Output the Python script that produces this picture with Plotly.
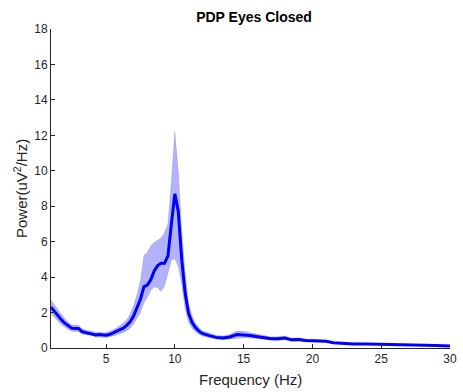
import plotly.graph_objects as go

freq = [1, 1.25, 1.5, 1.75, 2, 2.25, 2.5, 2.75, 3, 3.25, 3.5, 3.75, 4, 4.25, 4.5, 4.75,
        5, 5.25, 5.5, 5.75, 6, 6.25, 6.5, 6.75, 7, 7.25, 7.5, 7.75, 8, 8.25, 8.5, 8.75,
        9, 9.25, 9.5, 9.75, 10, 10.25, 10.5, 10.75, 11, 11.25, 11.5, 11.75, 12, 12.5,
        13, 13.5, 14, 14.5, 15, 15.5, 16, 16.5, 17, 17.5, 18, 18.5, 19, 19.5, 20, 20.5,
        21, 21.5, 22, 23, 24, 25, 26, 27, 28, 29, 30]

mean_power = [2.3, 2.05, 1.82, 1.6, 1.4, 1.25, 1.12, 1.1, 1.1, 0.92, 0.88, 0.85, 0.82, 0.74, 0.76, 0.72,
              0.72, 0.76, 0.84, 0.92, 1.02, 1.12, 1.28, 1.48, 1.8, 2.25, 2.75, 3.45, 3.55, 3.85, 4.35, 4.65,
              4.78, 4.78, 5.2, 7.0, 8.7, 7.7, 5.0, 3.1, 1.95, 1.45, 1.15, 0.95, 0.82, 0.7,
              0.6, 0.56, 0.62, 0.76, 0.75, 0.7, 0.64, 0.58, 0.52, 0.52, 0.56, 0.46, 0.48, 0.42, 0.41, 0.41,
              0.38, 0.3, 0.27, 0.23, 0.23, 0.22, 0.2, 0.18, 0.16, 0.14, 0.11]

upper_power = [2.7, 2.42, 2.15, 1.9, 1.65, 1.45, 1.3, 1.3, 1.28, 1.08, 1.02, 0.98, 0.95, 0.88, 0.9, 0.86,
               0.87, 0.93, 1.02, 1.13, 1.26, 1.4, 1.6, 1.9, 2.4, 3.0, 3.8, 5.2, 5.4, 5.75, 5.95, 6.1,
               6.2, 6.5, 7.0, 9.4, 12.2, 10.0, 6.6, 4.2, 2.5, 1.8, 1.4, 1.15, 0.98, 0.84,
               0.72, 0.68, 0.76, 0.96, 0.94, 0.86, 0.76, 0.7, 0.62, 0.63, 0.66, 0.55, 0.56, 0.5, 0.48, 0.47,
               0.44, 0.35, 0.31, 0.27, 0.26, 0.25, 0.23, 0.2, 0.18, 0.16, 0.13]

lower_power = [1.95, 1.72, 1.52, 1.33, 1.17, 1.05, 0.95, 0.92, 0.92, 0.78, 0.75, 0.72, 0.7, 0.62, 0.63, 0.6,
               0.59, 0.62, 0.68, 0.74, 0.8, 0.87, 0.98, 1.12, 1.35, 1.65, 2.0, 2.55, 2.85, 3.25, 3.45, 3.4,
               3.2, 3.5, 4.2, 4.95, 5.05, 4.6, 3.6, 2.2, 1.45, 1.12, 0.92, 0.77, 0.68, 0.58,
               0.5, 0.46, 0.5, 0.58, 0.58, 0.56, 0.53, 0.48, 0.43, 0.42, 0.46, 0.38, 0.41, 0.35, 0.35, 0.36,
               0.33, 0.26, 0.23, 0.2, 0.2, 0.19, 0.17, 0.16, 0.14, 0.12, 0.09]

x_ticks = [5, 10, 15, 20, 25, 30]
y_ticks = [0, 2, 4, 6, 8, 10, 12, 14, 16, 18]

axis_color = "#262626"
font_family = "Liberation Sans, Arial, sans-serif"

fig = go.Figure()
fig.add_trace(go.Scatter(x=freq, y=upper_power, mode="lines",
                         line=dict(width=0.6, color="rgba(120,120,170,0.45)"),
                         showlegend=False, hoverinfo="skip"))
fig.add_trace(go.Scatter(x=freq, y=lower_power, mode="lines", fill="tonexty",
                         fillcolor="rgba(0,0,255,0.3)",
                         line=dict(width=0.6, color="rgba(120,120,170,0.45)"),
                         showlegend=False, hoverinfo="skip"))
fig.add_trace(go.Scatter(x=freq, y=mean_power, mode="lines",
                         line=dict(width=3, color="#0000FF"),
                         showlegend=False))

fig.update_layout(
    width=463, height=392,
    margin=dict(l=51, r=6, t=29, b=44),
    paper_bgcolor="white", plot_bgcolor="white",
    font=dict(family=font_family, color=axis_color, size=12),
    title=dict(text="<b>PDP Eyes Closed</b>", x=(51 + 457) / 2 / 463, xanchor="center",
               y=1 - 17 / 392, yanchor="middle", yref="container",
               font=dict(size=14, color="black", family=font_family)),
    xaxis=dict(range=[1, 30], tickvals=x_ticks, ticks="inside", ticklen=4,
               tickcolor=axis_color, showline=True, linecolor=axis_color, linewidth=1,
               showgrid=False, zeroline=False, ticklabeloverflow="allow",
               tickfont=dict(size=12, color=axis_color)),
    yaxis=dict(range=[0, 18], tickvals=y_ticks, ticks="inside", ticklen=4,
               tickcolor=axis_color, showline=True, linecolor=axis_color, linewidth=1,
               showgrid=False, zeroline=False, ticklabeloverflow="allow",
               tickfont=dict(size=12, color=axis_color)),
    annotations=[
        dict(text="Frequency (Hz)", xref="paper", yref="paper", x=0.5, y=-(379 - 348) / 319,
             xanchor="center", yanchor="middle", showarrow=False,
             font=dict(size=15, color=axis_color)),
        dict(text="Power(uV<sup>2</sup>/Hz)", xref="paper", yref="paper",
             x=(20 - 51) / 406, y=0.5, xanchor="center", yanchor="middle",
             textangle=-90, showarrow=False, font=dict(size=15, color=axis_color)),
    ],
)

fig.write_html("out.html", config={"displayModeBar": False},
               post_script="document.body.style.margin='0';document.body.style.padding='0';")
